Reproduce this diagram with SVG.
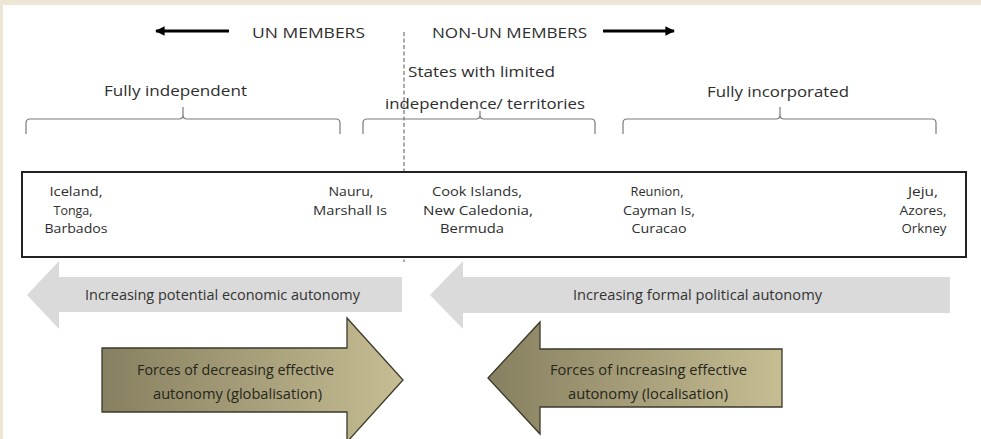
<svg xmlns="http://www.w3.org/2000/svg" width="981" height="439" viewBox="0 0 981 439">
<defs>
<linearGradient id="olive" x1="0" y1="0" x2="1" y2="0">
<stop offset="0" stop-color="#878060"/>
<stop offset="1" stop-color="#c6bd93"/>
</linearGradient>
<marker id="ah" viewBox="0 0 10 10" refX="9" refY="5" markerWidth="3.2" markerHeight="3.2" orient="auto-start-reverse" markerUnits="strokeWidth">
<path d="M0,0 L10,5 L0,10 Z" fill="#000"/>
</marker>
<style>
text{font-family:"Open Sans","Noto Sans","Liberation Sans",sans-serif;fill:#2e2e2e;}
.hd{font-size:14.5px;}
.lb{font-size:14.5px;}
.bx{font-size:13.5px;text-anchor:middle;}
.gt{font-size:14px;fill:#333;}
.ot{font-size:14px;fill:#26261b;}
.brace{fill:none;stroke:#7a7a7a;stroke-width:1.2;}
.gray{fill:#dadada;}
.olv{fill:url(#olive);stroke:#3a392c;stroke-width:1.3;}
</style>
</defs>
<rect x="0" y="0" width="981" height="439" fill="#ede6d4"/>
<rect x="3" y="5" width="978" height="434" fill="#ffffff"/>

<g id="connectors">
<line x1="229" y1="31" x2="156" y2="31" stroke="#000" stroke-width="3" marker-end="url(#ah)"/>
<line x1="603" y1="31" x2="674" y2="31" stroke="#000" stroke-width="3" marker-end="url(#ah)"/>
<line x1="404" y1="32" x2="404" y2="262" stroke="#555" stroke-width="1" stroke-dasharray="4,2.5"/>
</g>

<g id="header">
<text class="hd" x="252" y="38" textLength="113" lengthAdjust="spacingAndGlyphs">UN MEMBERS</text>
<text class="hd" x="432" y="38" textLength="155" lengthAdjust="spacingAndGlyphs">NON-UN MEMBERS</text>
</g>

<g id="fully-independent">
<text class="lb" x="104" y="96" textLength="143" lengthAdjust="spacingAndGlyphs">Fully independent</text>
<path class="brace" d="M26,134 V123 Q26,119 30,119 H179 Q183,119 183,115 V107 M183,115 Q183,119 187,119 H336 Q340,119 340,123 V134"/>
</g>

<g id="limited-independence">
<text class="lb" x="408" y="77" textLength="147" lengthAdjust="spacingAndGlyphs">States with limited</text>
<text class="lb" x="385" y="109" textLength="200" lengthAdjust="spacingAndGlyphs">independence/ territories</text>
<path class="brace" d="M363,134 V123 Q363,119 367,119 H476 Q480,119 480,115 V111 M480,115 Q480,119 484,119 H591 Q595,119 595,123 V134"/>
</g>

<g id="fully-incorporated">
<text class="lb" x="707" y="97" textLength="142" lengthAdjust="spacingAndGlyphs">Fully incorporated</text>
<path class="brace" d="M623,134 V123 Q623,119 627,119 H776 Q780,119 780,115 V107 M780,115 Q780,119 784,119 H932 Q936,119 936,123 V134"/>
</g>

<g id="examples-box">
<rect x="22" y="172" width="944" height="85" fill="#fff" stroke="#222" stroke-width="2"/>
<text class="bx" x="76" y="196" textLength="53" lengthAdjust="spacingAndGlyphs">Iceland,</text>
<text class="bx" x="73" y="214.5" textLength="39" lengthAdjust="spacingAndGlyphs">Tonga,</text>
<text class="bx" x="76" y="233" textLength="63" lengthAdjust="spacingAndGlyphs">Barbados</text>
<text class="bx" x="351" y="196" textLength="45" lengthAdjust="spacingAndGlyphs">Nauru,</text>
<text class="bx" x="350" y="214.5" textLength="74" lengthAdjust="spacingAndGlyphs">Marshall Is</text>
<text class="bx" x="477" y="196" textLength="90" lengthAdjust="spacingAndGlyphs">Cook Islands,</text>
<text class="bx" x="478" y="214.5" textLength="110" lengthAdjust="spacingAndGlyphs">New Caledonia,</text>
<text class="bx" x="472" y="233" textLength="64" lengthAdjust="spacingAndGlyphs">Bermuda</text>
<text class="bx" x="657" y="196" textLength="53" lengthAdjust="spacingAndGlyphs">Reunion,</text>
<text class="bx" x="659" y="214.5" textLength="72" lengthAdjust="spacingAndGlyphs">Cayman Is,</text>
<text class="bx" x="659" y="233" textLength="55" lengthAdjust="spacingAndGlyphs">Curacao</text>
<text class="bx" x="923" y="196" textLength="30" lengthAdjust="spacingAndGlyphs">Jeju,</text>
<text class="bx" x="923" y="214.5" textLength="47" lengthAdjust="spacingAndGlyphs">Azores,</text>
<text class="bx" x="924" y="233" textLength="45" lengthAdjust="spacingAndGlyphs">Orkney</text>
</g>

<g id="economic-autonomy">
<path class="gray" d="M27,295 L59,261 V277 H402 V312 H59 V329 Z"/>
<text class="gt" x="85" y="300" textLength="275" lengthAdjust="spacingAndGlyphs">Increasing potential economic autonomy</text>
</g>

<g id="political-autonomy">
<path class="gray" d="M430,295 L463,261 V277 H950 V313 H463 V329 Z"/>
<text class="gt" x="573" y="300" textLength="249" lengthAdjust="spacingAndGlyphs">Increasing formal political autonomy</text>
</g>

<g id="globalisation">
<path class="olv" d="M102,348 H347 V318 L403,380 L347,442 V412 H102 Z"/>
<text class="ot" x="137" y="375" textLength="197" lengthAdjust="spacingAndGlyphs">Forces of decreasing effective</text>
<text class="ot" x="153" y="399" textLength="169" lengthAdjust="spacingAndGlyphs">autonomy (globalisation)</text>
</g>

<g id="localisation">
<path class="olv" d="M488,378 L540,322 V349 H782 V407 H540 V434 Z"/>
<text class="ot" x="550" y="375" textLength="197" lengthAdjust="spacingAndGlyphs">Forces of increasing effective</text>
<text class="ot" x="568" y="399" textLength="160" lengthAdjust="spacingAndGlyphs">autonomy (localisation)</text>
</g>
</svg>
